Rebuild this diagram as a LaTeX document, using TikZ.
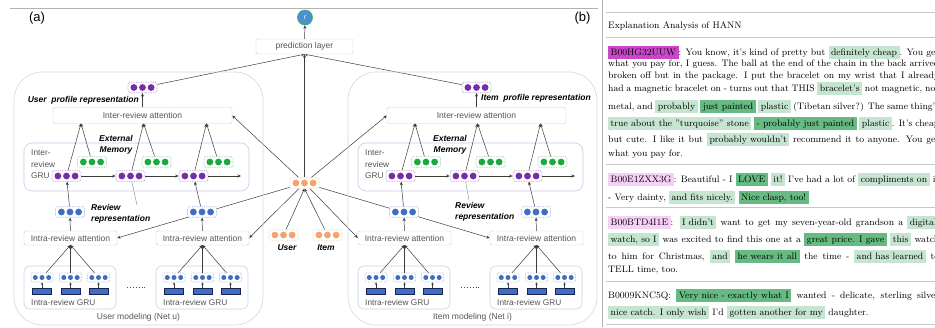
\documentclass[tikz,border=0pt]{standalone}
\usepackage{fontspec}
\newfontfamily\sansf{Liberation Sans}
\usetikzlibrary{arrows.meta}
\definecolor{cpurple}{RGB}{118,46,168}
\definecolor{cgreen}{RGB}{28,168,64}
\definecolor{cblue}{RGB}{62,110,196}
\definecolor{corange}{RGB}{244,162,110}
\definecolor{cr}{RGB}{74,144,210}
\definecolor{crb}{RGB}{60,170,90}
\definecolor{boxgrey}{RGB}{205,205,205}
\definecolor{framegrey}{RGB}{215,215,215}
\definecolor{txtgrey}{RGB}{85,85,85}
\definecolor{linegrey}{RGB}{60,60,60}
\definecolor{grubord}{RGB}{212,198,236}
\definecolor{igrubord}{RGB}{198,214,240}
\definecolor{wordbord}{RGB}{25,35,80}
\definecolor{hlg}{RGB}{198,229,209}
\definecolor{hdg}{RGB}{102,187,131}
\definecolor{hmag}{RGB}{204,70,204}
\definecolor{hpink}{RGB}{246,208,246}
\definecolor{sepgrey}{RGB}{200,200,200}
\pgfdeclarelayer{bg}
\pgfsetlayers{bg,main}
\newcommand\hl[2]{\begingroup\setlength{\fboxsep}{1pt}\colorbox{#1}{\strut\hspace{1.5pt}#2\hspace{1.5pt}}\endgroup}
\newcommand\jline[1]{\makebox[331pt][s]{#1}}
\tikzset{
  attbox/.style={draw=boxgrey, fill=white, rounded corners=2pt, inner sep=0pt,
    font=\sansf\fontsize{8.5}{10}\selectfont, text=txtgrey},
  arr/.style={draw=linegrey, line width=0.5pt, -{Stealth[length=3.5pt,width=3pt]}},
  sarr/.style={draw=linegrey, line width=0.5pt, -{Stealth[length=2.5pt,width=2.4pt]}},
  callout/.style={draw=black!40, line width=0.5pt},
  frame/.style={draw=framegrey, line width=0.6pt, rounded corners=28pt},
  grubox/.style={draw=grubord, line width=0.6pt, rounded corners=8pt},
  igrubox/.style={draw=igrubord, line width=0.6pt, rounded corners=6pt},
  lab/.style={font=\sansf\bfseries\itshape\fontsize{8.5}{11}\selectfont, inner sep=0pt, align=left},
  grut/.style={font=\sansf\fontsize{8.3}{11.5}\selectfont, text=txtgrey, inner sep=0pt, align=left},
  capt/.style={font=\sansf\fontsize{8.5}{10}\selectfont, text=txtgrey, inner sep=0pt},
  dotsbig/.style={fill=white, draw=#1!55, densely dotted, line width=0.7pt, rounded corners=1.5pt,
    minimum width=29pt, minimum height=10.5pt, inner sep=0pt,
    path picture={\foreach \k in {-1,0,1}{\fill[#1] ([xshift=\k*8.6pt]path picture bounding box.center) circle (3.4pt);}}},
  dotssmall/.style={fill=white, draw=cblue!50, densely dotted, line width=0.6pt, rounded corners=1pt,
    minimum width=22pt, minimum height=9pt, inner sep=0pt,
    path picture={\foreach \k in {-1,0,1}{\fill[cblue] ([xshift=\k*6.7pt]path picture bounding box.center) circle (2.5pt);}}},
  word/.style={draw=wordbord, fill=cblue, line width=0.8pt, minimum width=19pt, minimum height=6.5pt, inner sep=0pt},
  txt/.style={anchor=base west, inner sep=0pt, font=\fontsize{9.4}{11}\selectfont},
  sep/.style={draw=sepgrey, line width=0.5pt},
  panel/.style={draw=black!30, line width=0.6pt},
}
\newcommand\hannmod[3]{%
\begin{scope}[xshift=#2]
  \draw[frame] (14,72) rectangle (263,325);
  \node[capt] (#1cap) at (138.5,317) {#3};
  \node[attbox, minimum width=179pt, minimum height=16pt] (#1att) at (142.5,115.5) {Inter-review attention};
  \node[dotsbig=cpurple] (#1prof) at (142.5,87.5) {};
  \draw[grubox] (24,143) rectangle (249,191);
  \node[grut, anchor=west] (#1grul) at (31,164.5) {Inter-\\review\\GRU};
  \node[lab, align=center] (#1mem) at (116,144.5) {External\\Memory};
  \node[dotsbig=cgreen] (#1g1) at (92,162) {};
  \node[dotsbig=cgreen] (#1g2) at (156.5,162) {};
  \node[dotsbig=cgreen] (#1g3) at (218.5,162) {};
  \node[dotsbig=cpurple] (#1p1) at (66.5,176) {};
  \node[dotsbig=cpurple] (#1p2) at (130.5,176) {};
  \node[dotsbig=cpurple] (#1p3) at (193.5,176) {};
  \coordinate (#1end) at (241,176);
  \coordinate (#1a1) at (81,123.5);
  \coordinate (#1a2) at (143.5,123.5);
  \coordinate (#1a3) at (206.5,123.5);
  \foreach \j/\n in {0/1,132/2}{
    \begin{scope}[xshift=\j]
      \node[attbox, minimum width=93pt, minimum height=14pt] (#1ia\n) at (70.5,238) {Intra-review attention};
      \node[dotsbig=cblue] (#1r\n) at (70,212) {};
      \draw[arr] (#1ia\n) -- (#1r\n);
      \draw[igrubox] (24,266) rectangle (116,309);
      \node[grut, anchor=west] (#1igl\n) at (31,302.5) {Intra-review GRU};
      \coordinate (#1ap\n) at (70.5,245);
      \foreach \w [count=\c] in {42,70.5,98.5}{
        \node[dotssmall] (#1s\n\c) at (\w,277.5) {};
        \node[word] (#1w\n\c) at (\w,291.5) {};
        \draw[sarr] (#1w\n\c) -- (#1s\n\c);
        \draw[arr] (#1s\n\c) -- (#1ap\n);
      }
    \end{scope}
  }
  \draw[arr] (#1r1) -- (#1p1);
  \draw[arr] (#1r2) -- (#1p3);
  \draw[arr] (#1p1) -- (#1p2);
  \draw[arr] (#1p2) -- (#1p3);
  \draw[arr] (#1p3) -- (#1end);
  \draw[arr] (#1p1) -- (#1a1);
  \draw[arr] (#1g1) -- (#1a1);
  \draw[arr] (#1p2) -- (#1a2);
  \draw[arr] (#1g2) -- (#1a2);
  \draw[arr] (#1p3) -- (#1a3);
  \draw[arr] (#1g3) -- (#1a3);
  \draw[arr] (#1att) -- (#1prof);
  \coordinate (#1dl) at (127,287);
  \coordinate (#1dr) at (147,287);
  \draw[dotted, line width=0.9pt, draw=black!70] (#1dl) -- (#1dr);
\end{scope}}

\begin{document}
\begin{tikzpicture}[x=1pt,y=-1pt]
\useasboundingbox (0,0) rectangle (935,327);

% panel rules
\draw[panel] (10,8) -- (598,8);
\draw[panel] (602,0) -- (602,327);

\node[font=\sansf\fontsize{13}{15}\selectfont, inner sep=0pt] (la) at (37,18.5) {(a)};
\node[font=\sansf\fontsize{13}{15}\selectfont, inner sep=0pt] (lb) at (582.5,18.5) {(b)};

\hannmod{u}{0pt}{User modeling (Net u)}
\hannmod{i}{334pt}{Item modeling (Net i)}

% top
\node[circle, fill=cr, draw=crb, line width=0.6pt, minimum size=15pt, inner sep=0pt, text=white,
  font=\sansf\itshape\fontsize{7}{8}\selectfont] (r) at (305,17.5) {r};
\node[attbox, minimum width=97pt, minimum height=15pt] (pred) at (304.5,46.5) {prediction layer};
\draw[arr] (pred) -- (r);

% embeddings
\node[dotsbig=corange] (emb) at (304.5,183) {};
\node[dotsbig=corange] (uemb) at (283.5,235) {};
\node[dotsbig=corange] (iemb) at (327.5,235) {};
\node[lab] (ulab) at (287,247.5) {User};
\node[lab] (ilab) at (326,247.5) {Item};

% side specific labels
\node[lab, anchor=east] (uproflab) at (139,100) {User\ \ profile representation};
\node[lab, anchor=west] (iproflab) at (481,98) {Item\ \ profile representation};
\node[lab, anchor=west] (urevlab) at (91,213.5) {Review\\representation};
\node[lab, anchor=west] (irevlab) at (455,212) {Review\\representation};
\coordinate (ucall) at (137,205);
\coordinate (icall) at (469,200);

\begin{pgfonlayer}{bg}
  \fill[white] (0,0) rectangle (935,327);
  \draw[callout] (ucall) -- (up2);
  \draw[callout] (icall) -- (ip2);
  \draw[arr] (uemb) -- (emb.south);
  \draw[arr] (iemb) -- (emb.south);
  \draw[arr] (emb) -- (pred.south);
  \draw[arr] (uprof) -- (pred.south);
  \draw[arr] (iprof) -- (pred.south);
  \draw[arr] (emb) -- (uatt.east);
  \draw[arr] (emb) -- (uia1.east);
  \draw[arr] (emb) -- (uia2.east);
  \draw[arr] (emb) -- (iatt.west);
  \draw[arr] (emb) -- (iia1.west);
  \draw[arr] (emb) -- (iia2.west);
\end{pgfonlayer}

% right text panel
\draw[sep] (606,12) -- (935,12);
\draw[sep] (606,37) -- (935,37);
\draw[sep] (606,164) -- (935,164);
\draw[sep] (606,207) -- (935,207);
\draw[sep] (606,281) -- (935,281);
\draw[sep] (606,324) -- (935,324);
\begin{scope}
\clip (603,0) rectangle (935,327);
\node[txt] (t0) at (608,28) {Explanation Analysis of HANN};
\node[txt] (t1) at (608,55) {\jline{\hl{hmag}{B00HG32UUW}: You know, it's kind of pretty but \hl{hlg}{definitely cheap}. You get}};
\node[txt] (t2) at (608,66) {\jline{what you pay for, I guess. The ball at the end of the chain in the back arrived}};
\node[txt] (t3) at (608,78) {\jline{broken off but in the package. I put the bracelet on my wrist that I already}};
\node[txt] (t4) at (608,91) {\jline{had a magnetic bracelet on - turns out that THIS \hl{hlg}{bracelet's} not magnetic, not}};
\node[txt] (t5) at (608,109) {\jline{metal, and \hl{hlg}{probably} \hl{hdg}{just painted} \hl{hlg}{plastic} (Tibetan silver?) The same thing's}};
\node[txt] (t6) at (608,126) {\jline{\hl{hlg}{true about the "turquoise" stone} \hl{hdg}{- probably just painted} \hl{hlg}{plastic}. It's cheap}};
\node[txt] (t7) at (608,142) {\jline{but cute. I like it but \hl{hlg}{probably wouldn't} recommend it to anyone. You get}};
\node[txt] (t8) at (608,156) {what you pay for.};
\node[txt] (t9) at (608,182) {\jline{\hl{hpink}{B00E1ZXX3G}: Beautiful - I \hl{hdg}{LOVE} \hl{hlg}{it!} I've had a lot of \hl{hlg}{compliments on} it}};
\node[txt] (t10) at (608,200) {- Very dainty, \hl{hlg}{and fits nicely.} \hl{hdg}{Nice clasp, too!}};
\node[txt] (t11) at (608,225) {\jline{\hl{hpink}{B00BTD4I1E}: \hl{hlg}{I didn't} want to get my seven-year-old grandson a \hl{hlg}{digital}}};
\node[txt] (t12) at (608,242) {\jline{\hl{hlg}{watch, so I} was excited to find this one at a \hl{hdg}{great price. I gave} \hl{hlg}{this} watch}};
\node[txt] (t13) at (608,259) {\jline{to him for Christmas, \hl{hlg}{and} \hl{hdg}{he wears it all} the time - \hl{hlg}{and has learned} to}};
\node[txt] (t14) at (608,272) {TELL time, too.};
\node[txt] (t15) at (608,298) {\jline{B0009KNC5Q: \hl{hdg}{Very nice - exactly what I} wanted - delicate, sterling silver}};
\node[txt] (t16) at (608,315) {\hl{hlg}{nice catch. I only wish} I'd \hl{hlg}{gotten another for my} daughter.};
\end{scope}
\end{tikzpicture}
\end{document}
